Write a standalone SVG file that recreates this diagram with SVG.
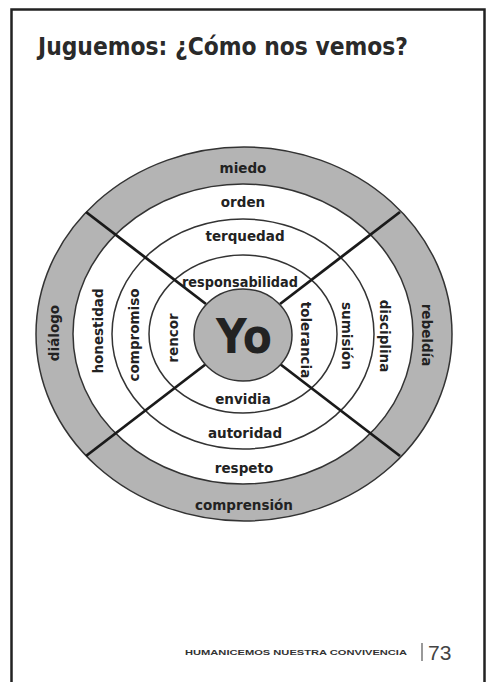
<svg xmlns="http://www.w3.org/2000/svg" width="489" height="682" viewBox="0 0 489 682">
<style>
.lbl{font-family:"DejaVu Sans","Liberation Sans",sans-serif;font-weight:bold;font-size:13.5px;fill:#222;text-anchor:middle;dominant-baseline:central}
.ring{stroke:#333;stroke-width:1.5}
.div{stroke:#1a1a1a;stroke-width:2.8;fill:none}
</style>
<rect width="489" height="682" fill="#fff"/>
<rect x="11.5" y="9.5" width="473" height="690" fill="none" stroke="#222" stroke-width="2.5"/>
<text x="38" y="55" font-family="DejaVu Sans, sans-serif" font-weight="bold" font-size="25" fill="#2a2a2a" textLength="370" lengthAdjust="spacingAndGlyphs">Juguemos: ¿Cómo nos vemos?</text>
<g id="wheel">
<ellipse cx="244" cy="334" rx="208" ry="187" fill="#b4b4b4" class="ring"/>
<ellipse cx="243" cy="334" rx="170" ry="150" fill="#fff" class="ring"/>
<ellipse cx="243" cy="334" rx="131" ry="115" fill="#fff" class="ring"/>
<ellipse cx="243" cy="334" rx="94" ry="79" fill="#fff" class="ring"/>
</g>
<g id="connectors">
<line class="div" x1="86" y1="212" x2="206" y2="304"/>
<line class="div" x1="400" y1="212" x2="280" y2="304"/>
<line class="div" x1="86" y1="456" x2="206" y2="364"/>
<line class="div" x1="400" y1="456" x2="280" y2="364"/>
</g>
<g id="yo">
<ellipse cx="243" cy="335" rx="49" ry="46" fill="#b4b4b4" class="ring"/>
<text x="244" y="336" class="lbl" textLength="56" lengthAdjust="spacingAndGlyphs" style="font-size:48px">Yo</text>
</g>
<g id="top">
<text class="lbl" x="243" y="168">miedo</text>
<text class="lbl" x="243" y="202">orden</text>
<text class="lbl" x="245" y="236">terquedad</text>
<text class="lbl" x="240" y="282" textLength="116" lengthAdjust="spacingAndGlyphs">responsabilidad</text>
</g>
<g id="bottom">
<text class="lbl" x="243" y="399">envidia</text>
<text class="lbl" x="245" y="433">autoridad</text>
<text class="lbl" x="244" y="468">respeto</text>
<text class="lbl" x="244" y="505">comprensión</text>
</g>
<g id="left">
<text class="lbl" transform="translate(54,333) rotate(-90)">diálogo</text>
<text class="lbl" transform="translate(98,331) rotate(-90)">honestidad</text>
<text class="lbl" transform="translate(134,335) rotate(-90)">compromiso</text>
<text class="lbl" transform="translate(173,338) rotate(-90)">rencor</text>
</g>
<g id="right">
<text class="lbl" transform="translate(306,340) rotate(90)">tolerancia</text>
<text class="lbl" transform="translate(347,336) rotate(90)">sumisión</text>
<text class="lbl" transform="translate(385,336) rotate(90)">disciplina</text>
<text class="lbl" transform="translate(427,335) rotate(90)">rebeldía</text>
</g>
<g id="footer">
<text x="185" y="655" font-family="Liberation Sans, sans-serif" font-weight="bold" font-size="7.5" fill="#333" textLength="222" lengthAdjust="spacingAndGlyphs">HUMANICEMOS NUESTRA CONVIVENCIA</text>
<line x1="422" y1="643" x2="422" y2="661" stroke="#777" stroke-width="1.5"/>
<text x="428" y="660" font-family="Liberation Sans, sans-serif" font-size="21" fill="#444">73</text>
</g>
</svg>
